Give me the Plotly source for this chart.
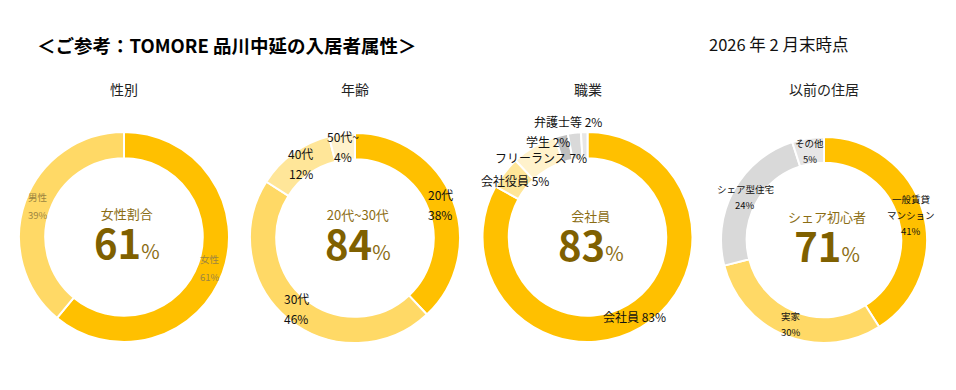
import math
import plotly.graph_objects as go

# ---------------- data ----------------
gender_labels = ["女性", "男性"]
gender_values = [61, 39]

age_labels = ["20代", "30代", "40代", "50代~"]
age_values = [38, 46, 12, 4]

job_labels = ["会社員", "会社役員", "フリーランス", "学生", "弁護士等", "その他"]
job_values = [83, 5, 7, 2, 2, 1]

residence_labels = ["一般賃貸<br>マンション", "実家", "シェア型住宅", "その他"]
residence_values = [41, 30, 24, 5]

chart_titles = ["性別", "年齢", "職業", "以前の住居"]
center_captions = ["女性割合", "20代~30代", "会社員", "シェア初心者"]
center_values = [61, 84, 83, 71]

title_text = "＜ご参考：TOMORE 品川中延の入居者属性＞"
date_text = "2026 年 2 月末時点"

# ---------------- style / layout ----------------
PAGE_MARGIN = 8            # default body margin of the html page
FW, FH = 956 - 2 * PAGE_MARGIN, 390 - 2 * PAGE_MARGIN
FONT = "Noto Sans CJK JP"
DARK = "#7F6000"
MID = "#8B6D14"


def px2x(px):
    return (px - PAGE_MARGIN) / FW


def py2y(py):
    return 1 - (py - PAGE_MARGIN) / FH


# pie geometry in page pixels: (center x, center y from top, outer radius)
geoms = [(124, 237, 105), (355, 238, 105), (587.5, 237, 105), (824, 240, 103)]
HOLE = 0.75

colors = [
    ["#FFC000", "#FFD966"],
    ["#FFC000", "#FFD966", "#FFE699", "#FFF2CC"],
    ["#FFC000", "#FFE699", "#FFF2CC", "#BFBFBF", "#D9D9D9", "#E7E6E6"],
    ["#FFC000", "#FFD966", "#D9D9D9", "#E7E6E6"],
]

series = [
    (gender_labels, gender_values),
    (age_labels, age_values),
    (job_labels, job_values),
    (residence_labels, residence_values),
]

label_style = [
    dict(size=9.5, color="#9C8540", spacing=18, mode="two"),
    dict(size=12, color="#111111", spacing=20, mode="two"),
    dict(size=12, color="#111111", spacing=0, mode="one"),
    dict(size=9.5, color="#111111", spacing=16, mode="two"),
]
job_nudge = {"学生": (-17, -7), "弁護士等": (-8, -24)}
hidden = {(2, "その他")}
center_dy = [0, 0, 2, 0]

fig = go.Figure()
annotations = []

for i, ((labels, values), (cx, cy, r)) in enumerate(zip(series, geoms)):
    fig.add_trace(go.Pie(
        labels=[l.replace("<br>", "") for l in labels],
        values=values,
        hole=HOLE,
        sort=False,
        direction="clockwise",
        rotation=0,
        textinfo="none",
        hoverinfo="label+percent",
        marker=dict(colors=colors[i], line=dict(color="white", width=2)),
        domain=dict(x=[px2x(cx - r), px2x(cx + r)],
                    y=[py2y(cy + r), py2y(cy - r)]),
        showlegend=False,
    ))

    total = sum(values)
    rmid = r * (1 + HOLE) / 2
    cum = 0
    st = label_style[i]
    for lab, v in zip(labels, values):
        mid = (cum + v / 2) / total
        cum += v
        if (i, lab) in hidden:
            continue
        th = 2 * math.pi * mid
        px = cx + rmid * math.sin(th)
        py = cy - rmid * math.cos(th)
        dx, dy = (job_nudge.get(lab, (0, 0)) if i == 2 else (0, 0))
        px += dx
        py += dy
        if st["mode"] == "one":
            lines = [f"{lab} {v}%"]
        else:
            lines = lab.split("<br>") + [f"{v}%"]
        n = len(lines)
        for k, line in enumerate(lines):
            off = (k - (n - 1) / 2) * st["spacing"]
            annotations.append(dict(
                x=px2x(px), y=py2y(py + off), xref="paper", yref="paper",
                text=line, showarrow=False, xanchor="center", yanchor="middle",
                font=dict(family=FONT, size=st["size"], color=st["color"]),
            ))

    # chart subtitle
    annotations.append(dict(
        x=px2x(cx), y=py2y(89), xref="paper", yref="paper",
        text=chart_titles[i], showarrow=False, xanchor="center", yanchor="middle",
        font=dict(family=FONT, size=14, color="#222222"),
    ))
    # center caption + big value in one block
    annotations.append(dict(
        x=px2x(cx), y=py2y(cy + center_dy[i]), xref="paper", yref="paper",
        text=(f"<span style='font-size:13px;color:{MID}'>{center_captions[i]}</span><br>"
              f"<b><span style='font-size:40px'>{center_values[i]}</span></b>"
              f"<span style='font-size:20px;color:{MID}'>%</span>"),
        showarrow=False, xanchor="center", yanchor="middle", align="center",
        xshift=3,
        font=dict(family=FONT, size=31, color=DARK),
    ))

annotations.append(dict(
    x=px2x(35), y=py2y(45), xref="paper", yref="paper", text=f"<b>{title_text}</b>",
    showarrow=False, xanchor="left", yanchor="middle",
    font=dict(family=FONT, size=18.5, color="#000000"),
))
annotations.append(dict(
    x=px2x(707), y=py2y(44), xref="paper", yref="paper", text=date_text,
    showarrow=False, xanchor="left", yanchor="middle",
    font=dict(family=FONT, size=16.5, color="#111111"),
))

fig.update_layout(
    width=FW, height=FH,
    margin=dict(l=0, r=0, t=0, b=0),
    paper_bgcolor="white", plot_bgcolor="white",
    annotations=annotations,
)

fig.write_html("out.html")
